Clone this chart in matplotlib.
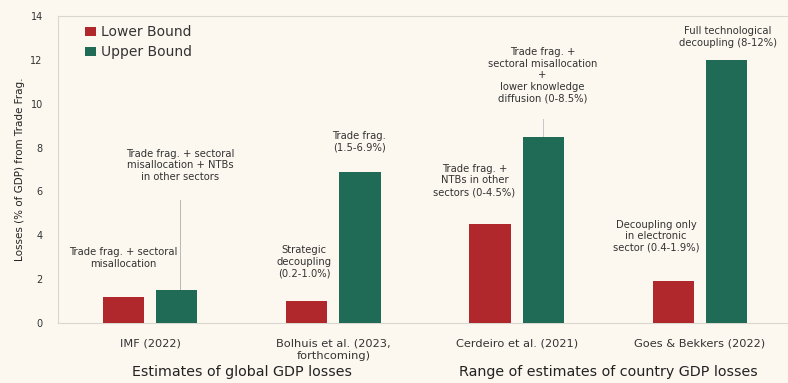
import matplotlib
matplotlib.use("Agg")
import matplotlib.pyplot as plt
import matplotlib.transforms as mtransforms
import numpy as np

plt.rcParams['font.family'] = ['DejaVu Sans']

studies = ["IMF (2022)", "Bolhuis et al. (2023,\nforthcoming)", "Cerdeiro et al. (2021)", "Goes & Bekkers (2022)"]
lower_bound = [1.2, 1.0, 4.5, 1.9]
upper_bound = [1.5, 6.9, 8.5, 12.0]
group_titles = ["Estimates of global GDP losses", "Range of estimates of country GDP losses"]
y_ticks = [0, 2, 4, 6, 8, 10, 12, 14]

annotations = [
    ("Trade frag. + sectoral\nmisallocation", -0.147, 2.95),
    ("Trade frag. + sectoral\nmisallocation + NTBs\nin other sectors", 0.165, 7.2),
    ("Strategic\ndecoupling\n(0.2-1.0%)", 0.84, 2.8),
    ("Trade frag.\n(1.5-6.9%)", 1.14, 8.25),
    ("Trade frag. +\nNTBs in other\nsectors (0-4.5%)", 1.77, 6.5),
    ("Trade frag. +\nsectoral misallocation\n+\nlower knowledge\ndiffusion (0-8.5%)", 2.14, 11.3),
    ("Decoupling only\nin electronic\nsector (0.4-1.9%)", 2.76, 3.95),
    ("Full technological\ndecoupling (8-12%)", 3.15, 13.05),
]

bg = "#fcf8f0"
red = "#b0272c"
green = "#1f6b56"

fig = plt.figure(figsize=(7.88, 3.83), dpi=100, facecolor=bg)
ax = fig.add_axes([0.0736, 0.1567, 0.9264, 0.8015])
ax.set_facecolor(bg)

x = np.arange(len(studies))
w = 0.225
off = 0.145
ax.bar(x - off, lower_bound, w, color=red, label="Lower Bound", zorder=3)
ax.bar(x + off, upper_bound, w, color=green, label="Upper Bound", zorder=3)

ax.set_xlim(-0.502, 3.48)
ax.set_ylim(0, 14)
ax.set_yticks(y_ticks)
ax.set_yticklabels([str(t) for t in y_ticks], fontsize=7, color="#333333")
ax.tick_params(axis='y', length=0, pad=11)
ax.set_xticks(x)
ax.set_xticklabels(studies, fontsize=8.2, color="#333333", linespacing=1.3)
ax.tick_params(axis='x', length=0, pad=11)

for s in ["left", "bottom", "top"]:
    ax.spines[s].set_color("#d8d8d0")
    ax.spines[s].set_linewidth(0.8)
ax.spines["right"].set_visible(False)

ax.set_ylabel("Losses (% of GDP) from Trade Frag.", fontsize=7.5, color="#222222", labelpad=4)

for txt, tx, ty in annotations:
    ax.text(tx, ty, txt, ha="center", va="center", fontsize=7.2, color="#333333", linespacing=1.2, zorder=4)

# connector lines
ax.plot([0.163, 0.163], [upper_bound[0], 5.6], color="#b8b8b8", lw=0.7, zorder=2)
ax.plot([2.145, 2.145], [upper_bound[2], 9.3], color="#c8c8c8", lw=0.7, zorder=2)

trans = mtransforms.blended_transform_factory(ax.transData, fig.transFigure)
ax.text((x[0] + x[1]) / 2, 0.029, group_titles[0], transform=trans, ha="center", va="center", fontsize=10.3, color="#222222")
ax.text((x[2] + x[3]) / 2, 0.029, group_titles[1], transform=trans, ha="center", va="center", fontsize=10.3, color="#222222")

leg = ax.legend(loc="upper left", bbox_to_anchor=(0.02, 1.01), frameon=False, fontsize=10,
                handlelength=0.75, handleheight=0.6, handletextpad=0.4, labelspacing=0.4)
for t in leg.get_texts():
    t.set_color("#333333")

fig.savefig("out.png", dpi=100, facecolor=bg)
